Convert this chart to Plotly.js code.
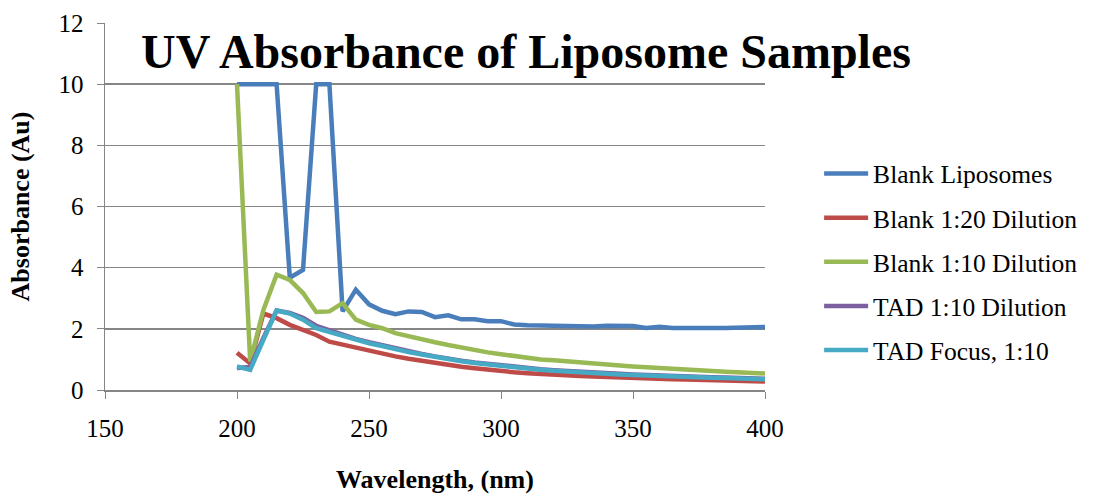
<!DOCTYPE html>
<html><head><meta charset="utf-8">
<script src="https://cdn.plot.ly/plotly-3.0.1.min.js"></script>
<style>body{margin:0;background:#fff}#c{width:1098px;height:494px}</style>
</head><body><div id="c"></div>
<script>
const wavelength = [200,205,210,215,220,225,230,235,240,245,250,255,260,265,270,275,280,285,290,295,300,305,310,315,320,325,330,335,340,345,350,355,360,365,370,375,380,385,390,395,400];
const blankLiposomes = [10,10,10,10,3.67,3.93,10,10,2.57,3.28,2.8,2.59,2.48,2.57,2.55,2.38,2.44,2.31,2.31,2.25,2.25,2.14,2.12,2.11,2.09,2.08,2.07,2.08,2.10,2.09,2.09,2.03,2.07,2.03,2.02,2.02,2.03,2.03,2.04,2.04,2.06];
const blank1to20 = [1.22,0.87,2.5,2.35,2.13,1.97,1.8,1.58,1.48,1.37,1.27,1.18,1.10,1.02,0.95,0.88,0.82,0.76,0.71,0.66,0.62,0.58,0.55,0.52,0.50,0.48,0.46,0.44,0.42,0.40,0.39,0.37,0.36,0.35,0.34,0.33,0.32,0.31,0.30,0.29,0.28];
const blank1to10 = [10,0.93,2.62,3.77,3.6,3.17,2.55,2.57,2.84,2.3,2.13,2.02,1.86,1.75,1.66,1.56,1.47,1.38,1.30,1.23,1.17,1.11,1.05,1.0,0.97,0.93,0.90,0.86,0.83,0.80,0.77,0.74,0.72,0.70,0.67,0.65,0.62,0.60,0.58,0.56,0.54];
const tad1to10 = [0.72,0.75,1.7,2.6,2.52,2.36,2.1,1.95,1.8,1.67,1.56,1.46,1.35,1.26,1.18,1.10,1.02,0.96,0.90,0.85,0.80,0.76,0.72,0.68,0.65,0.62,0.59,0.57,0.55,0.53,0.51,0.49,0.48,0.46,0.45,0.43,0.42,0.41,0.40,0.38,0.37];
const tadFocus = [0.77,0.66,1.64,2.6,2.5,2.3,2.02,1.9,1.77,1.64,1.53,1.44,1.33,1.24,1.16,1.08,1.0,0.94,0.88,0.83,0.79,0.74,0.70,0.66,0.63,0.60,0.57,0.55,0.53,0.51,0.49,0.47,0.46,0.44,0.43,0.41,0.40,0.39,0.38,0.36,0.35];
const xTicks = [150,200,250,300,350,400];
const yTicks = [0,2,4,6,8,10,12];
const seriesNames = ['Blank Liposomes','Blank 1:20 Dilution','Blank 1:10 Dilution','TAD 1:10 Dilution','TAD Focus, 1:10'];
const seriesData = [blankLiposomes, blank1to20, blank1to10, tad1to10, tadFocus];
const colors = ['#4a7ebb','#be4b48','#98b954','#7d60a0','#46aac5'];
const font = 'Liberation Serif, Times New Roman, serif';
const traces = seriesData.map((y,i)=>({
  x: wavelength, y: y, name: seriesNames[i], type:'scatter', mode:'lines',
  legendgroup: 'g'+i,
  line:{color:colors[i], width:4.5}
}));
const layout = {
  width:1098, height:494,
  margin:{l:105, r:333, t:23, b:104},
  paper_bgcolor:'#fff', plot_bgcolor:'#fff',
  font:{family:font, size:25, color:'#000'},
  showlegend:true,
  legend:{x:1.082, y:0.349, xanchor:'left', yanchor:'middle', traceorder:'grouped', tracegroupgap:8,
    font:{family:font, size:25.5, color:'#000'}, itemwidth:44, borderwidth:0, bgcolor:'rgba(0,0,0,0)'},
  xaxis:{range:[150,400], tickvals:xTicks, ticks:'outside', ticklen:7, tickcolor:'#868686', ticklabelstandoff:8,
    showline:true, linecolor:'#868686', linewidth:1.5, showgrid:false, zeroline:false,
    tickfont:{family:font, size:25}, title:{text:'<b>Wavelength, (nm)</b>', font:{family:font, size:26}, standoff:30}},
  yaxis:{range:[0,12], tickvals:yTicks, ticks:'outside', ticklen:7, tickcolor:'#868686', ticklabelstandoff:8,
    showline:true, linecolor:'#868686', linewidth:1.5, showgrid:true, gridcolor:'#868686', gridwidth:1.5, zeroline:false,
    tickfont:{family:font, size:25}, title:{text:'<b>Absorbance (Au)</b>', font:{family:font, size:26}, standoff:21}},
  title:{text:'<b>UV Absorbance of Liposome Samples</b>', font:{family:font, size:48, color:'#000'},
    x:526/1098, xanchor:'center', y:1-51/494, yanchor:'middle'}
};
Plotly.newPlot('c', traces, layout, {displayModeBar:false, staticPlot:true});
</script></body></html>
